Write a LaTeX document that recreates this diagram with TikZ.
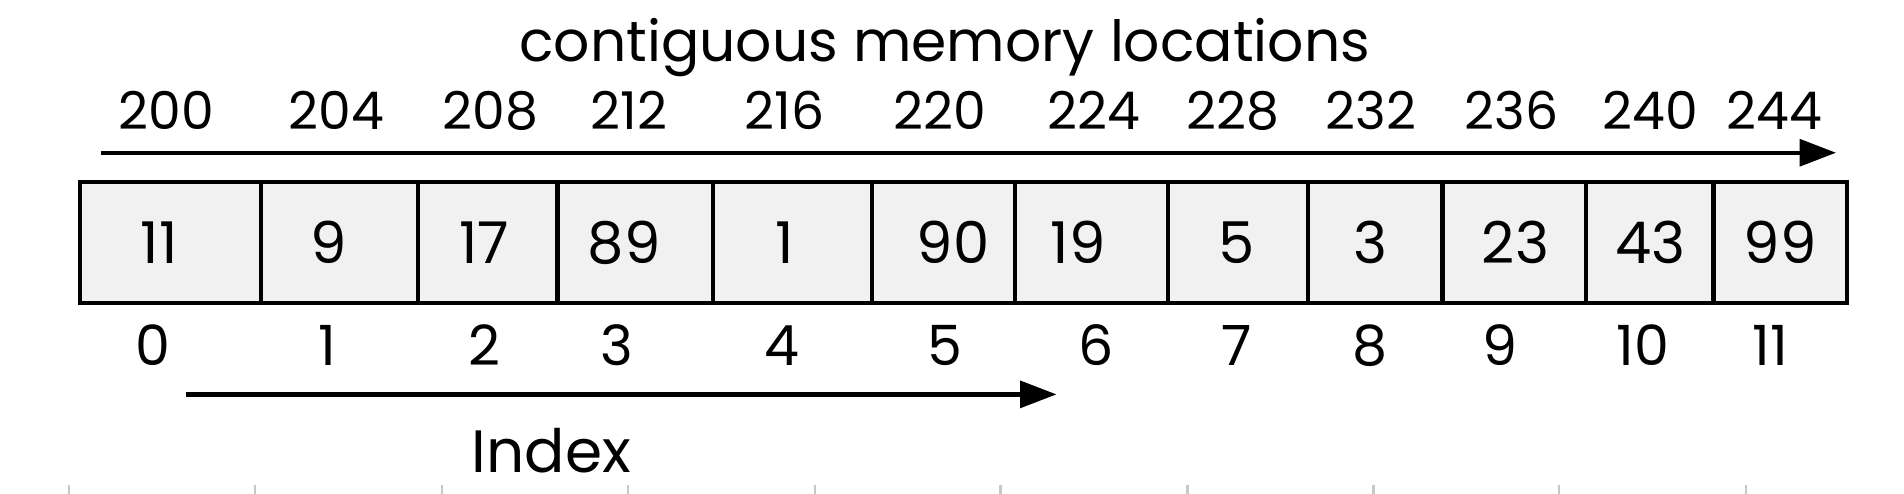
\documentclass[tikz,border=0pt]{standalone}
\usepackage{fontspec}
\setmainfont{Poppins}
\usetikzlibrary{arrows.meta}
\definecolor{cellGray}{RGB}{241, 241, 241}
\definecolor{tickGray}{RGB}{200, 200, 200}

\begin{document}
\begin{tikzpicture}[
    cell/.style={draw, line width=1pt, fill=cellGray, minimum height=1cm, inner sep=0pt},
    val/.style={inner sep=0pt, font=\fontsize{13.5}{16}\selectfont},
    addr/.style={anchor=base, font=\fontsize{12.2}{14}\selectfont},
    idx/.style={anchor=base, font=\fontsize{13}{15}\selectfont},
    memarrow/.style={line width=1pt, -{Triangle[length=3mm, width=2.2mm]}}
]
\useasboundingbox (0,0) rectangle (15.68,4.068);

\node[anchor=base, font=\fontsize{13.3}{15}\selectfont] (title) at (7.78,3.56) {contiguous memory locations};

% addresses
\foreach \x/\a [count=\i from 0] in {1.37/200, 2.77/204, 4.04/208, 5.18/212, 6.46/216, 7.74/220,
    9.01/224, 10.15/228, 11.29/232, 12.45/236, 13.59/240, 14.61/244}
    \node[addr] (a\i) at (\x,3.00) {\a};

\coordinate (memstart) at (0.83,2.81);
\coordinate (memend) at (15.12,2.81);
\draw[memarrow] (memstart) -- (memend);

% array cells, value placed where the picture prints it
\foreach \l/\r/\vx/\v [count=\i from 0] in {0.66/2.15/1.31/11, 2.15/3.44/2.71/9, 3.44/4.59/3.99/17,
    4.59/5.87/5.14/89, 5.87/7.18/6.46/1, 7.18/8.36/7.85/90, 8.36/9.62/8.88/19, 9.62/10.77/10.18/5,
    10.77/11.88/11.29/3, 11.88/13.06/12.48/23, 13.06/14.11/13.59/43, 14.11/15.21/14.66/99}
{
    \node[cell, minimum width={(\r-\l)*1cm}] (c\i) at ({(\l+\r)/2},2.07) {};
    \node[val] (v\i) at (\vx,2.07) {\v};
}

% indices
\foreach \x [count=\i from 0] in {1.26, 2.70, 3.99, 5.08, 6.44, 7.78, 9.03, 10.18, 11.28, 12.35, 13.53, 14.58}
    \node[idx] (i\i) at (\x,1.06) {\i};

\coordinate (idxstart) at (1.53,0.82);
\coordinate (idxend) at (8.70,0.82);
\draw[memarrow] (idxstart) -- (idxend);
\node[anchor=base, font=\fontsize{14}{16}\selectfont] (indexlabel) at (4.54,0.18) {Index};

% faint ticks along the bottom edge
\foreach \x in {0.57, 2.10, 3.64, 5.17, 6.71, 8.24, 9.78, 11.31, 12.84, 14.38}
    \draw[tickGray, line width=0.6pt] (\x,0) -- (\x,0.07);
\end{tikzpicture}
\end{document}
